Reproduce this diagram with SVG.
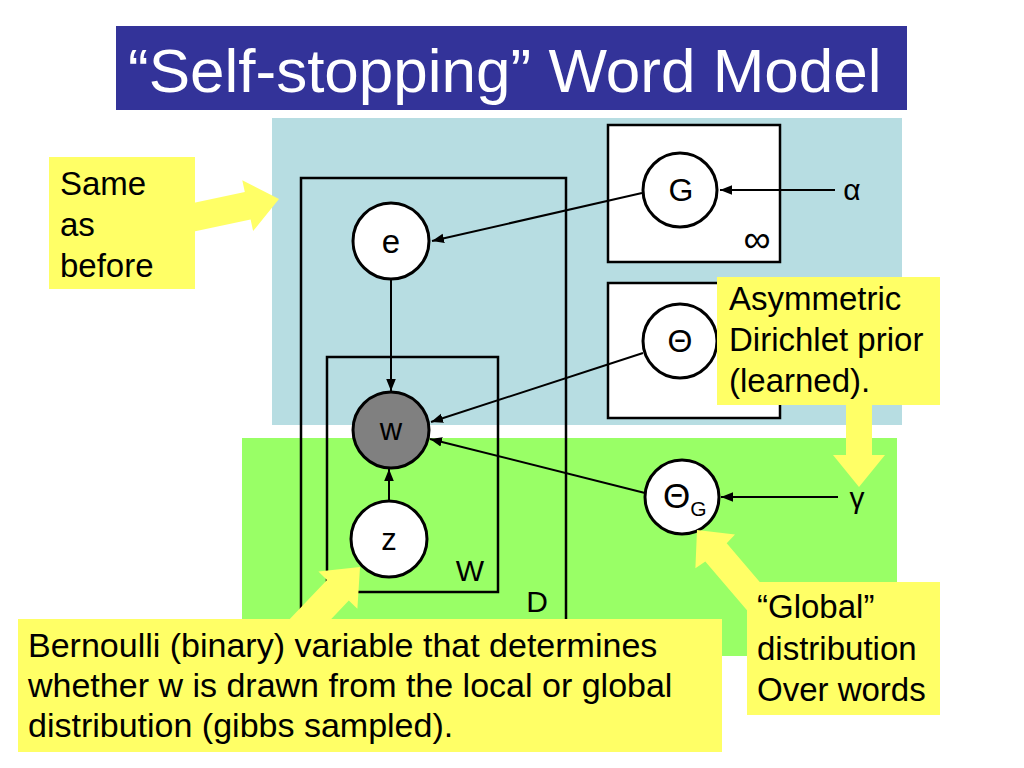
<svg xmlns="http://www.w3.org/2000/svg" width="1024" height="768" viewBox="0 0 1024 768">
<defs>
<style>
text{font-family:"Liberation Sans",Arial,sans-serif;fill:#000}
.plate{fill:none;stroke:#000;stroke-width:2.5}
.node{fill:#fff;stroke:#000;stroke-width:3}
.edge{fill:none;stroke:#000;stroke-width:2}
.note{fill:#ffff66}
.lbl{font-size:32px;text-anchor:middle}
.ntext{font-size:33px}
</style>
<marker id="ah" viewBox="0 0 10 10" refX="10" refY="5" markerWidth="6" markerHeight="6" markerUnits="strokeWidth" orient="auto">
<path d="M0,1 L10,5 L0,9 Z" fill="#000"/>
</marker>
</defs>
<rect width="1024" height="768" fill="#fff"/>
<g id="title">
<rect x="116" y="26" width="791" height="84" fill="#333399"/>
<text x="128" y="92" font-size="62" style="fill:#fff">“Self-stopping” Word Model</text>
</g>
<g id="regions">
<rect x="272" y="118" width="630" height="307" fill="#b7dde2"/>
<rect x="242" y="438" width="655" height="218" fill="#99ff66"/>
</g>
<g id="plates">
<rect id="plateG" x="608" y="125" width="172" height="137" fill="#fff" stroke="#000" stroke-width="2.5"/>
<text x="757" y="252" font-size="38" text-anchor="middle">∞</text>
<rect id="plateTheta" x="608" y="283" width="172" height="135" fill="#fff" stroke="#000" stroke-width="2.5"/>
<rect id="plateD" class="plate" x="301" y="178" width="265" height="500"/>
<text x="537" y="612" font-size="30" text-anchor="middle">D</text>
<rect id="plateW" class="plate" x="327" y="357" width="171" height="235"/>
<text x="470" y="581" font-size="30" text-anchor="middle">W</text>
</g>
<g id="connectors">
<line class="edge" x1="642" y1="193" x2="432" y2="241" marker-end="url(#ah)"/>
<line class="edge" x1="835" y1="190" x2="720" y2="190" marker-end="url(#ah)"/>
<line class="edge" x1="391" y1="280" x2="391" y2="391" marker-end="url(#ah)"/>
<line class="edge" x1="643" y1="353" x2="431" y2="422" marker-end="url(#ah)"/>
<line class="edge" x1="645" y1="493" x2="430" y2="439" marker-end="url(#ah)"/>
<line class="edge" x1="389" y1="500" x2="389" y2="469" marker-end="url(#ah)"/>
<line class="edge" x1="838" y1="497" x2="721" y2="497" marker-end="url(#ah)"/>
</g>
<g id="node-G">
<circle class="node" cx="680" cy="190" r="37"/>
<text class="lbl" x="681" y="201">G</text>
</g>
<g id="node-alpha">
<text x="852" y="200" font-size="30" text-anchor="middle">α</text>
</g>
<g id="node-Theta">
<circle class="node" cx="680" cy="341" r="37"/>
<text x="680" y="352" font-size="32" text-anchor="middle">Θ</text>
</g>
<g id="node-e">
<circle class="node" cx="391" cy="241" r="38"/>
<text x="391" y="253" font-size="33" text-anchor="middle">e</text>
</g>
<g id="node-w">
<circle cx="391" cy="430" r="38" fill="#808080" stroke="#000" stroke-width="3"/>
<text x="391" y="440" font-size="31" text-anchor="middle">w</text>
</g>
<g id="node-z">
<circle class="node" cx="389" cy="539" r="38"/>
<text x="389" y="550" font-size="31" text-anchor="middle">z</text>
</g>
<g id="node-ThetaG">
<circle class="node" cx="682" cy="497" r="37"/>
<text x="663" y="508" font-size="35">Θ<tspan font-size="21" dy="8">G</tspan></text>
</g>
<g id="node-gamma">
<text x="857" y="508" font-size="30" text-anchor="middle">γ</text>
</g>
<g id="note-same">
<polygon class="note" points="192.9,231.7 250.6,219.4 253.1,231.1 279,199 242.3,180.3 244.8,192 187.1,204.3"/>
<rect class="note" x="49" y="157" width="146" height="132"/>
<text class="ntext" x="60" y="195">Same</text>
<text class="ntext" x="60" y="236">as</text>
<text class="ntext" x="60" y="277">before</text>
</g>
<g id="note-asym">
<polygon class="note" points="846,404 846,455 833,455 859,487 885,455 872,455 872,404"/>
<rect class="note" x="717" y="277" width="223" height="128"/>
<text class="ntext" x="729" y="310">Asymmetric</text>
<text class="ntext" x="729" y="351">Dirichlet prior</text>
<text class="ntext" x="729" y="392">(learned).</text>
</g>
<g id="note-global">
<polygon class="note" points="782.7,608.9 726.7,543.2 735,534.4 697,530 695.4,568.2 705.3,561.4 761.3,627.1"/>
<rect class="note" x="747" y="582" width="193" height="133"/>
<text class="ntext" x="757" y="618">“Global”</text>
<text class="ntext" x="757" y="660">distribution</text>
<text class="ntext" x="757" y="701">Over words</text>
</g>
<g id="note-bernoulli">
<polygon class="note" points="310.9,640.4 348.8,600.5 357.4,608.8 360,567 318.4,571.6 327,579.9 289.1,619.7"/>
<rect class="note" x="18" y="619" width="704" height="133"/>
<text x="28" y="657" font-size="34">Bernoulli (binary) variable that determines</text>
<text x="28" y="697" font-size="34">whether w is drawn from the local or global</text>
<text x="28" y="737" font-size="34">distribution (gibbs sampled).</text>
</g>
</svg>
